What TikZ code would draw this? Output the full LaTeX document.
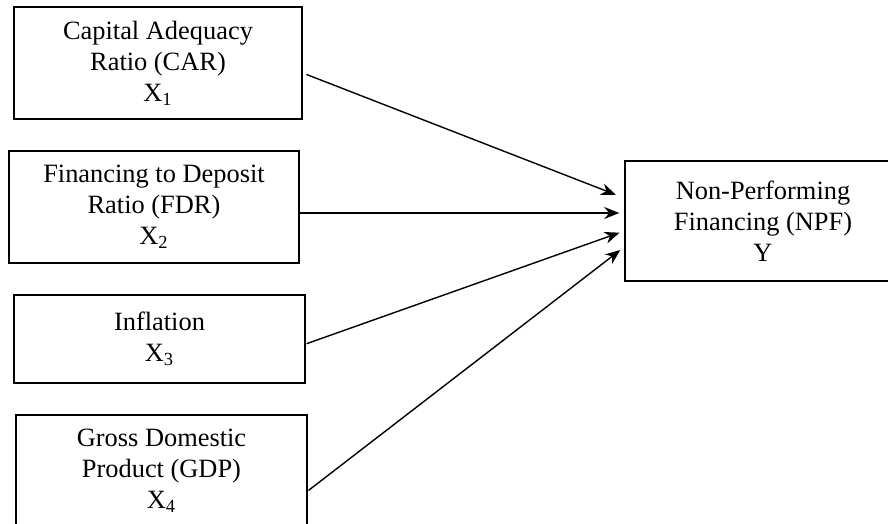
\documentclass[tikz,border=0pt]{standalone}
\usepackage{fontspec}
\setmainfont{Liberation Serif}
\usetikzlibrary{arrows.meta,positioning,calc}

\begin{document}
\begin{tikzpicture}[
  x=1pt, y=-1pt,
  var/.style={rectangle, draw, line width=0.75pt, align=center, inner sep=0pt,
    minimum height=56pt, font=\fontsize{13.2}{15.5}\selectfont},
  link/.style={-{Stealth[length=7.5pt, width=6pt]}, line width=0.7pt}
]
\useasboundingbox (0,0) rectangle (444,262);

% Independent variables
\node[var, minimum width=144pt] (X1) at (79,31.5) {Capital Adequacy\\Ratio (CAR)\\X\textsubscript{1}};
\node[var, minimum width=145pt] (X2) at (77,103.5) {Financing to Deposit\\Ratio (FDR)\\X\textsubscript{2}};
\node[var, minimum width=145.5pt, minimum height=44pt] (X3) at (79.75,169.5) {Inflation\\X\textsubscript{3}};
\node[var, minimum width=145.5pt] (X4) at (80.75,235.5) {Gross Domestic\\Product (GDP)\\X\textsubscript{4}};

% Dependent variable
\node[var, minimum width=138pt, minimum height=60pt] (Y) at (381.5,110.5) {Non-Performing\\Financing (NPF)\\Y};

% Effects on NPF
\draw[link, shorten <=2pt, shorten >=4.5pt] ([yshift=-5pt]X1.east) -- ([yshift=11.5pt]Y.west);
\draw[link, shorten >=2.5pt] ([yshift=-3pt]X2.east) -- ([yshift=-3pt]X2.east -| Y.west);
\draw[link, shorten <=0.5pt, shorten >=2.5pt] ([yshift=-2.5pt]X3.east) -- ([yshift=-5pt]Y.west);
\draw[link, shorten <=0.5pt, shorten >=2.5pt] ([yshift=-10pt]X4.east) -- ([yshift=-13pt]Y.west);

\end{tikzpicture}
\end{document}
